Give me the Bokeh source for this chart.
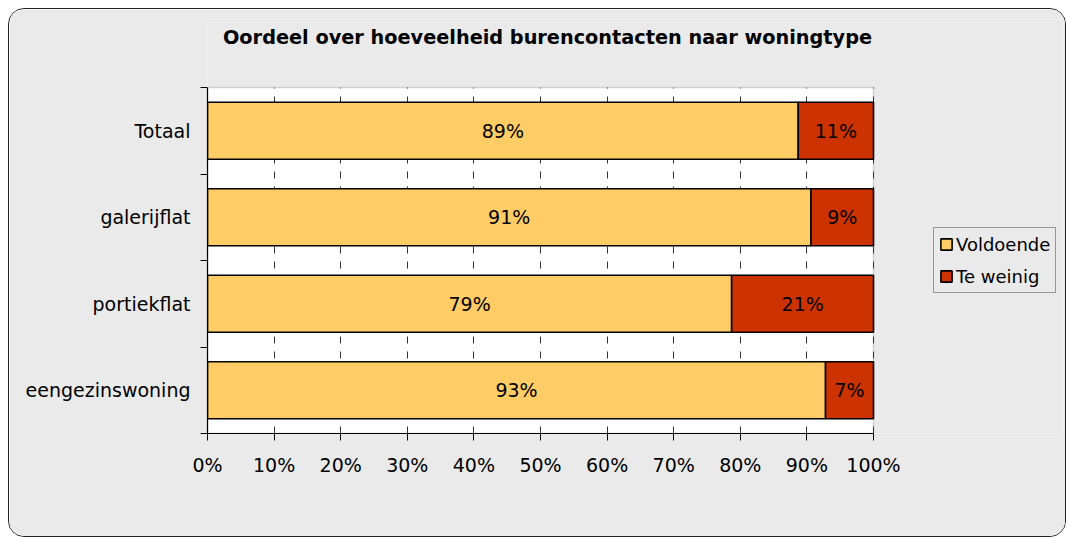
from bokeh.plotting import figure
from bokeh.models import (Range1d, FixedTicker, SingleIntervalTicker, NumeralTickFormatter,
                          ColumnDataSource, Legend, LegendItem, BoxAnnotation, Label)
from bokeh.core.properties import value
from bokeh.embed import file_html
from bokeh.resources import INLINE

categories = ["Totaal", "galerijflat", "portiekflat", "eengezinswoning"]
voldoende = [88.7, 90.6, 78.7, 92.8]
te_weinig = [11.3, 9.4, 21.3, 7.2]
series_names = ["Voldoende", "Te weinig"]
title_text = "Oordeel over hoeveelheid burencontacten naar woningtype"

FONT = "DejaVu Sans"
FS = "19px"
ORANGE = "#FFCC66"
RED = "#CC3300"
BG = "#EAEAEA"

# layout in pixels: the bar area is 666 x 346 px; the frame extends right (legend) and up (title)
BAR_W_PX, BAR_H_PX = 666, 346
FRAME_W_PX, FRAME_H_PX = 856, 414
n = len(categories)
x_end = FRAME_W_PX / BAR_W_PX
y_end = n * FRAME_H_PX / BAR_H_PX

ypos = [n - i - 0.5 for i in range(n)]
v = [x / 100 for x in voldoende]
t = [x / 100 for x in te_weinig]
src = ColumnDataSource(dict(
    y=ypos,
    v0=[0] * n, v1=v,
    t0=v, t1=[a + b for a, b in zip(v, t)],
    vmid=[a / 2 for a in v],
    tmid=[a + b / 2 for a, b in zip(v, t)],
    vlab=[f"{round(x)}%" for x in voldoende],
    tlab=[f"{round(x)}%" for x in te_weinig],
))

p = figure(width=1058, height=529, output_backend="svg", toolbar_location=None,
           x_range=Range1d(0, x_end), y_range=Range1d(0, y_end),
           min_border_left=198, min_border_right=1058 - 198 - FRAME_W_PX,
           min_border_top=529 - 105 - FRAME_H_PX, min_border_bottom=105,
           background_fill_color=BG, border_fill_color=BG)
p.styles = {"border": "1px solid #222222", "border-radius": "16px", "overflow": "hidden",
            "margin-left": "8px", "margin-top": "8px"}
p.outline_line_color = None

# title (placed above the bar area, slightly right of its centre)
title = Label(x=(547 - 207) / BAR_W_PX, y=n * (433 - 37) / BAR_H_PX, text=title_text,
              text_align="center", text_baseline="middle",
              text_font=FONT, text_font_size="19.3px", text_font_style="bold",
              text_color="black")
p.add_layout(title)

# white plot area with grey border (top/right)
area = BoxAnnotation(left=0, right=1, bottom=0, top=n, fill_color="white", fill_alpha=1,
                     line_color="#808080", line_width=1.5, level="image")
p.add_layout(area)

r1 = p.hbar(y="y", left="v0", right="v1", height=0.66, source=src,
            fill_color=ORANGE, line_color="black", line_width=1.6)
r2 = p.hbar(y="y", left="t0", right="t1", height=0.66, source=src,
            fill_color=RED, line_color="black", line_width=1.6)

for xcol, lcol in (("vmid", "vlab"), ("tmid", "tlab")):
    p.text(x=xcol, y="y", text=lcol, source=src, text_align="center", text_baseline="middle",
           text_font=value(FONT), text_font_size=FS, text_color="black")

# x axis
p.xaxis.ticker = SingleIntervalTicker(interval=0.1)
p.xaxis.bounds = (0, 1)
p.xaxis.formatter = NumeralTickFormatter(format="0%")
p.xaxis.axis_line_color = "black"
p.xaxis.axis_line_width = 1.2
p.xaxis.major_tick_out = 7
p.xaxis.major_tick_in = 0
p.xaxis.minor_tick_out = 0
p.xaxis.minor_tick_in = 0
p.xaxis.major_tick_line_color = "black"
p.xaxis.major_label_text_font = FONT
p.xaxis.major_label_text_font_size = FS
p.xaxis.major_label_text_color = "black"
p.xaxis.major_label_standoff = 13

# y axis
p.yaxis.ticker = FixedTicker(ticks=ypos, minor_ticks=list(range(n + 1)))
p.yaxis.bounds = (0, n)
p.yaxis.major_label_overrides = {y: c for y, c in zip(ypos, categories)}
p.yaxis.axis_line_color = "black"
p.yaxis.axis_line_width = 1.2
p.yaxis.major_tick_out = 0
p.yaxis.major_tick_in = 0
p.yaxis.minor_tick_out = 7
p.yaxis.minor_tick_in = 0
p.yaxis.minor_tick_line_color = "black"
p.yaxis.major_label_text_font = FONT
p.yaxis.major_label_text_font_size = FS
p.yaxis.major_label_text_color = "black"
p.yaxis.major_label_standoff = 10

p.ygrid.grid_line_color = None
p.xgrid.bounds = (0, 1)
p.xgrid.cross_bounds = (0, n)
p.xgrid.grid_line_color = "#333333"
p.xgrid.grid_line_dash = "7 8"
p.xgrid.grid_line_width = 1

legend = Legend(items=[LegendItem(label=series_names[0], renderers=[r1]),
                       LegendItem(label=series_names[1], renderers=[r2])],
                location=(726, 140), orientation="vertical",
                background_fill_color=BG, background_fill_alpha=1,
                border_line_color="#444444", border_line_width=1,
                label_text_font=FONT, label_text_font_size="18px", label_text_color="black",
                glyph_width=14, glyph_height=14, label_height=22, spacing=10, padding=5,
                label_standoff=3, margin=0)
p.add_layout(legend, "center")

open("out.html", "w").write(file_html(p, INLINE))
